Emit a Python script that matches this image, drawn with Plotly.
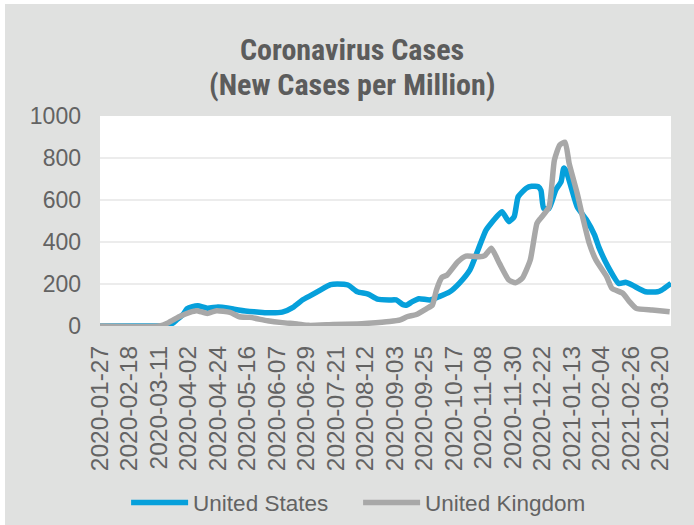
import plotly.graph_objects as go

# ---- data ----
us_dates = ["2020-01-27", "2020-03-11", "2020-03-17", "2020-03-21", "2020-03-24", "2020-03-29",
            "2020-04-01", "2020-04-05", "2020-04-09", "2020-04-16", "2020-04-24", "2020-05-01",
            "2020-05-06", "2020-05-16", "2020-05-23", "2020-05-31", "2020-06-11", "2020-06-19",
            "2020-06-26", "2020-07-03", "2020-07-09", "2020-07-17", "2020-07-22", "2020-07-30",
            "2020-08-06", "2020-08-14", "2020-08-21", "2020-08-30", "2020-09-04", "2020-09-09",
            "2020-09-12", "2020-09-16", "2020-09-21", "2020-09-29", "2020-10-06", "2020-10-14",
            "2020-10-21", "2020-10-29", "2020-11-04", "2020-11-10", "2020-11-18", "2020-11-22",
            "2020-11-27", "2020-12-01", "2020-12-04", "2020-12-10", "2020-12-14", "2020-12-19",
            "2020-12-21", "2020-12-23", "2020-12-27", "2021-01-01", "2021-01-05", "2021-01-07",
            "2021-01-09", "2021-01-13", "2021-01-17", "2021-01-24", "2021-01-30", "2021-02-02",
            "2021-02-09", "2021-02-17", "2021-02-22", "2021-02-27", "2021-03-09", "2021-03-18",
            "2021-03-21", "2021-03-28"]
us_values = [0, 0, 3, 12, 28, 55,
             82, 92, 96, 85, 90, 86,
             80, 70, 67, 63, 66, 89,
             124, 148, 170, 197, 200, 195,
             163, 152, 128, 124, 124, 102,
             100, 116, 130, 124, 140, 163,
             203, 267, 362, 457, 521, 544,
             497, 521, 616, 656, 665, 663,
             645, 560, 560, 648, 687, 752,
             735, 650, 568, 505, 433, 378,
             283, 203, 208, 195, 163, 163,
             171, 203]

uk_dates = ["2020-01-27", "2020-03-11", "2020-03-18", "2020-03-26", "2020-04-03", "2020-04-08",
            "2020-04-16", "2020-04-23", "2020-05-03", "2020-05-10", "2020-05-18", "2020-05-31",
            "2020-06-11", "2020-06-22", "2020-07-01", "2020-07-19", "2020-08-06", "2020-08-14",
            "2020-08-30", "2020-09-07", "2020-09-12", "2020-09-19", "2020-09-27", "2020-10-01",
            "2020-10-04", "2020-10-08", "2020-10-12", "2020-10-20", "2020-10-26", "2020-11-05",
            "2020-11-09", "2020-11-14", "2020-11-20", "2020-11-27", "2020-12-02", "2020-12-07",
            "2020-12-13", "2020-12-18", "2020-12-21", "2020-12-27", "2020-12-31", "2021-01-04",
            "2021-01-08", "2021-01-11", "2021-01-17", "2021-01-21", "2021-01-26", "2021-01-31",
            "2021-02-08", "2021-02-12", "2021-02-20", "2021-02-25", "2021-03-02", "2021-03-14",
            "2021-03-27"]
uk_values = [0, 0, 16, 44, 65, 73,
             60, 73, 65, 44, 41, 25,
             16, 10, 3, 7, 10, 13,
             21, 29, 44, 55, 84, 100,
             171, 231, 243, 306, 333, 330,
             335, 370, 298, 219, 206, 227,
             314, 489, 515, 567, 790, 862,
             875, 775, 632, 521, 394, 314,
             235, 179, 156, 116, 84, 76,
             68]

tick_labels = ["2020-01-27", "2020-02-18", "2020-03-11", "2020-04-02", "2020-04-24",
               "2020-05-16", "2020-06-07", "2020-06-29", "2020-07-21", "2020-08-12",
               "2020-09-03", "2020-09-25", "2020-10-17", "2020-11-08", "2020-11-30",
               "2020-12-22", "2021-01-13", "2021-02-04", "2021-02-26", "2021-03-20"]

title_lines = ["Coronavirus Cases", "(New Cases per Million)"]

x_start = "2020-01-27"
x_end = "2021-03-28"

BG = "#e0e1e0"
TXT = "#636363"
TITLE_FONT = "Liberation Sans Narrow, Roboto Condensed, DejaVu Sans Condensed, Arial Narrow, sans-serif"

# plot-area geometry in pixels (used to convert pixel positions to paper coords)
L, R, T, B, W, H = 100, 23, 116, 199, 694, 525
PW, PH = W - L - R, H - T - B


def px_x(p):
    return (p - L) / PW


def px_y(p):
    return (H - B - p) / PH


fig = go.Figure()
fig.add_trace(go.Scatter(x=us_dates, y=us_values, mode="lines", name="United States",
                         line=dict(color="#06a0db", width=5.5, shape="spline", smoothing=0.5)))
fig.add_trace(go.Scatter(x=uk_dates, y=uk_values, mode="lines", name="United Kingdom",
                         line=dict(color="#a8a8a8", width=5.5, shape="spline", smoothing=0.5)))

# two-line title with controlled line spacing
for txt, yc in zip(title_lines, [49.5, 84.5]):
    fig.add_annotation(text=f"<b>{txt}</b>", xref="paper", yref="paper",
                       x=px_x(352), y=px_y(yc),
                       xanchor="center", yanchor="middle", showarrow=False,
                       font=dict(family=TITLE_FONT, size=30, color="#5c5c5c"))

# thin white frame strips at the top and left edge, as in the reference
fig.add_shape(type="rect", xref="paper", yref="paper", x0=px_x(0), x1=px_x(W), y0=px_y(4), y1=px_y(0),
              fillcolor="white", line_width=0, layer="below")
fig.add_shape(type="rect", xref="paper", yref="paper", x0=px_x(0), x1=px_x(5), y0=px_y(H), y1=px_y(0),
              fillcolor="white", line_width=0, layer="below")

fig.update_layout(
    width=W, height=H,
    margin=dict(l=L, r=R, t=T, b=B, autoexpand=False),
    paper_bgcolor=BG, plot_bgcolor="white",
    font=dict(family="Liberation Sans, Arial, sans-serif", color=TXT),
    showlegend=True,
    legend=dict(orientation="h", xref="container", x=0.516, xanchor="center",
                yref="container", y=0.042, yanchor="middle",
                font=dict(family="Liberation Sans, Arial, sans-serif", size=22.5, color=TXT),
                bgcolor="rgba(0,0,0,0)", itemwidth=57, entrywidth=160, entrywidthmode="pixels",
                traceorder="normal"),
    xaxis=dict(type="date", range=[x_start, x_end], tickvals=tick_labels, ticktext=tick_labels,
               tickangle=-90, tickfont=dict(size=24.5, color=TXT), showgrid=False,
               zeroline=False, showline=False, ticks="", ticklabelstandoff=14, automargin=False),
    yaxis=dict(range=[0, 1000], tickvals=[0, 200, 400, 600, 800, 1000],
               tickfont=dict(size=23, color=TXT), showgrid=True, gridcolor="#ececec", gridwidth=1.5,
               zeroline=False, showline=False, ticks="", ticklabelstandoff=18, automargin=False),
)

fig.write_html("out.html")
